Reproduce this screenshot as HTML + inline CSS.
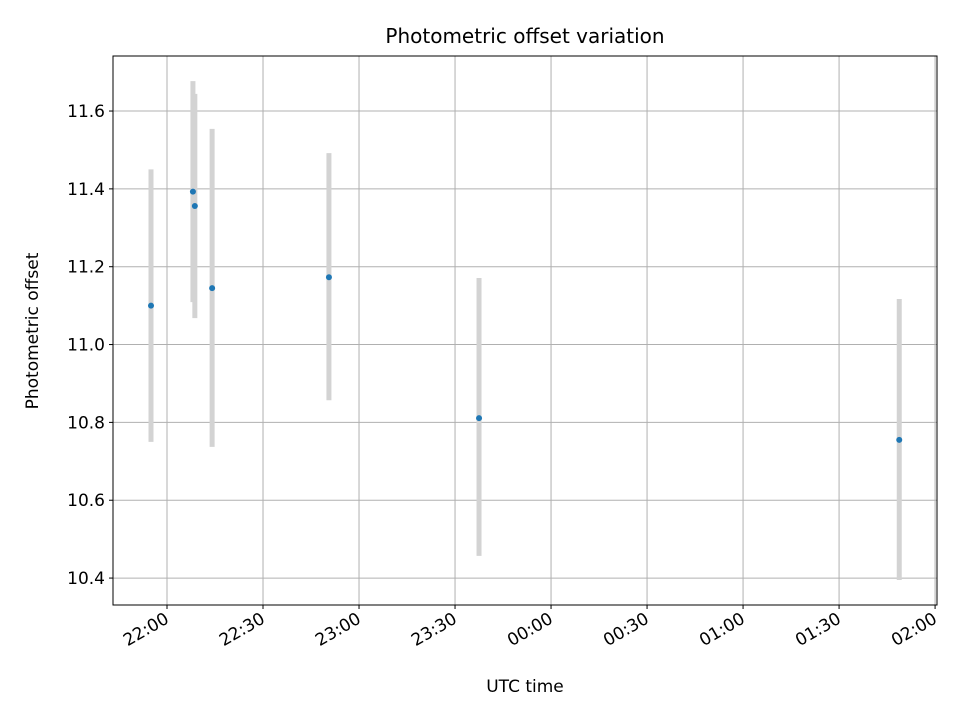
<!DOCTYPE html>
<html><head><meta charset="utf-8"><style>
body{margin:0;background:#fff;font-family:"Liberation Sans","DejaVu Sans",sans-serif;}
svg text{font-family:"DejaVu Sans","Liberation Sans",sans-serif;}
</style></head><body>
<svg id="chart" width="960" height="720" xmlns="http://www.w3.org/2000/svg">
<rect width="960" height="720" fill="#fff"/>
<g id="grid"></g>
<g id="bars"></g>
<g id="pts"></g>
<rect x="113" y="56" width="824" height="549" fill="none" stroke="#000" stroke-width="1"/>
<g id="axes"></g>
<text x="525" y="43" text-anchor="middle" font-size="20">Photometric offset variation</text>
<text x="525" y="692" text-anchor="middle" font-size="17">UTC time</text>
<text transform="translate(38,331) rotate(-90)" text-anchor="middle" font-size="17">Photometric offset</text>
</svg>
<script>
// time in minutes relative to 22:00
const times = [-5, 8.1, 8.7, 14.1, 50.6, 97.5, 228.8];
const values = [11.10, 11.393, 11.356, 11.145, 11.173, 10.811, 10.755];
const errLow = [10.75, 11.109, 11.068, 10.737, 10.857, 10.457, 10.395];
const errHigh = [11.45, 11.677, 11.644, 11.554, 11.492, 11.171, 11.117];
const yTicks = [10.4, 10.6, 10.8, 11.0, 11.2, 11.4, 11.6];
const xTicks = [0, 30, 60, 90, 120, 150, 180, 210, 240];
const xTickLabels = ["22:00","22:30","23:00","23:30","00:00","00:30","01:00","01:30","02:00"];

const L=113,R=937,T=56,B=605;
const xMin=-16.875, xMax=240.6, yMin=10.3308, yMax=11.7414;
const X=v=>L+(v-xMin)/(xMax-xMin)*(R-L);
const Y=v=>B-(v-yMin)/(yMax-yMin)*(B-T);
const NS="http://www.w3.org/2000/svg";
function mk(tag,attrs,parent){const e=document.createElementNS(NS,tag);for(const k in attrs)e.setAttribute(k,attrs[k]);parent.appendChild(e);return e;}
const grid=document.getElementById('grid'),axes=document.getElementById('axes'),bars=document.getElementById('bars'),pts=document.getElementById('pts');
yTicks.forEach(t=>{
  const y=Y(t);
  const g=mk('line',{x1:L,x2:R,y1:y,y2:y,stroke:'#b0b0b0','stroke-width':1},grid);
  
  
  const tk=mk('line',{x1:L-4,x2:L,y1:y,y2:y,stroke:'#000'},axes);
  
  
  const tx=mk('text',{x:L-8,y:y+6,'text-anchor':'end','font-size':17},axes);
  tx.textContent=t.toFixed(1);
  
  
});
xTicks.forEach((t,i)=>{
  const x=X(t);
  const g=mk('line',{x1:x,x2:x,y1:T,y2:B,stroke:'#b0b0b0','stroke-width':1},grid);
  
  
  const tk=mk('line',{x1:x,x2:x,y1:B,y2:B+4,stroke:'#000'},axes);
  
  
  const tx=mk('text',{x:x+3,y:B+17,'text-anchor':'end','font-size':17,transform:`rotate(-30 ${x+3} ${B+17})`},axes);
  tx.textContent=xTickLabels[i];
  
  
});
times.forEach((t,i)=>{
  const x=X(t);
  const b=mk('line',{x1:x,x2:x,y1:Y(errLow[i]),y2:Y(errHigh[i]),stroke:'#d3d3d3','stroke-width':5},bars);
  
  
});
times.forEach((t,i)=>{
  const c=mk('circle',{cx:X(t),cy:Y(values[i]),r:3,fill:'#1f77b4'},pts);
  
  
});
</script>
</body></html>
